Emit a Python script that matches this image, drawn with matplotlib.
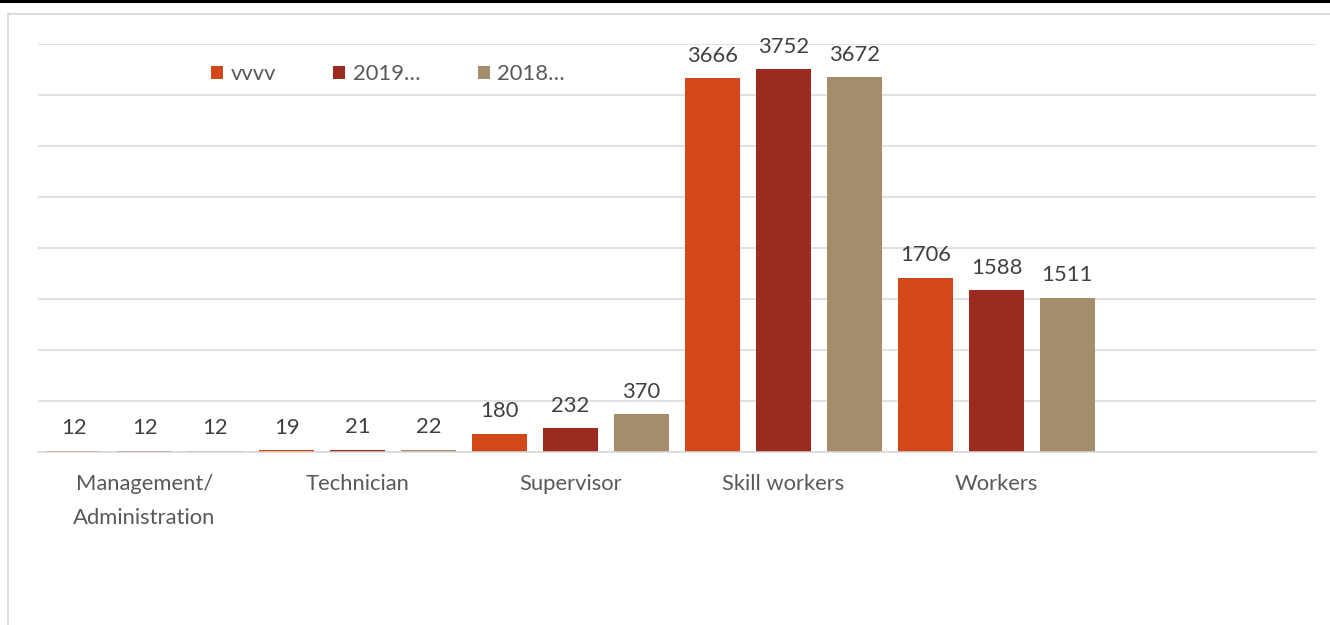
import matplotlib.pyplot as plt
from matplotlib.patches import Rectangle
import numpy as np

plt.rcParams['font.family'] = ['Lato', 'DejaVu Sans']

categories = ["Management/\nAdministration", "Technician", "Supervisor",
              "Skill workers", "Workers", ""]
series_names = ["vvvv", "2019…", "2018…"]
vvvv = [12, 19, 180, 3666, 1706]
y2019 = [12, 21, 232, 3752, 1588]
y2018 = [12, 22, 370, 3672, 1511]
colors = ["#D24818", "#9B2B1F", "#A38D6B"]

W, H = 1330, 625
fig = plt.figure(figsize=(W / 100, H / 100), dpi=100)

# chart area frame and top rule
fig.patches.append(Rectangle((8 / W, -0.1), 1.2, 1 - 14 / H + 0.1,
                             transform=fig.transFigure, fill=False,
                             edgecolor="#D9D9D9", linewidth=1.3))
fig.add_artist(plt.Line2D([0, 1], [1 - 1.2 / H, 1 - 1.2 / H],
                          transform=fig.transFigure, color="black", linewidth=2.2))

left, right = 38 / W, 1316 / W
bottom, top = 1 - 452 / H, 1 - 44 / H
ax = fig.add_axes([left, bottom, right - left, top - bottom])

fs = 15.8
x = np.arange(len(vvvv))
step = 0.333
width = 0.261
for i, (vals, name, c) in enumerate(zip([vvvv, y2019, y2018], series_names, colors)):
    bars = ax.bar(x + (i - 1) * step, vals, width, color=c, label=name, zorder=2)
    for b, v in zip(bars, vals):
        ax.annotate(str(v), (b.get_x() + b.get_width() / 2, v),
                    xytext=(0, 9), textcoords="offset points",
                    ha="center", va="bottom", fontsize=fs, color="#404040")

ax.set_xlim(-0.5, len(categories) - 0.5)
ax.set_ylim(0, 4000)
ax.set_yticks(np.arange(0, 4001, 500))
ax.yaxis.grid(True, color="#D9D9D9", linewidth=1.1, zorder=0)
ax.set_axisbelow(True)
ax.tick_params(axis="y", length=0, labelleft=False)
ax.set_xticks(np.arange(len(categories)))
ax.set_xticklabels(categories, fontsize=fs, color="#595959", linespacing=1.85)
ax.tick_params(axis="x", length=0, pad=16)
for s in ["top", "right", "left"]:
    ax.spines[s].set_visible(False)
ax.spines["bottom"].set_color("#D9D9D9")
ax.spines["bottom"].set_linewidth(1.1)

ax.legend(loc="center left", bbox_to_anchor=((211 - 38) / (1316 - 38), (452 - 74) / (452 - 44)),
          ncol=3, frameon=False, fontsize=fs, labelcolor="#595959",
          handlelength=0.55, handleheight=0.55, handletextpad=0.35,
          columnspacing=2.6, borderaxespad=0, borderpad=0)

fig.savefig("out.png", dpi=100)
